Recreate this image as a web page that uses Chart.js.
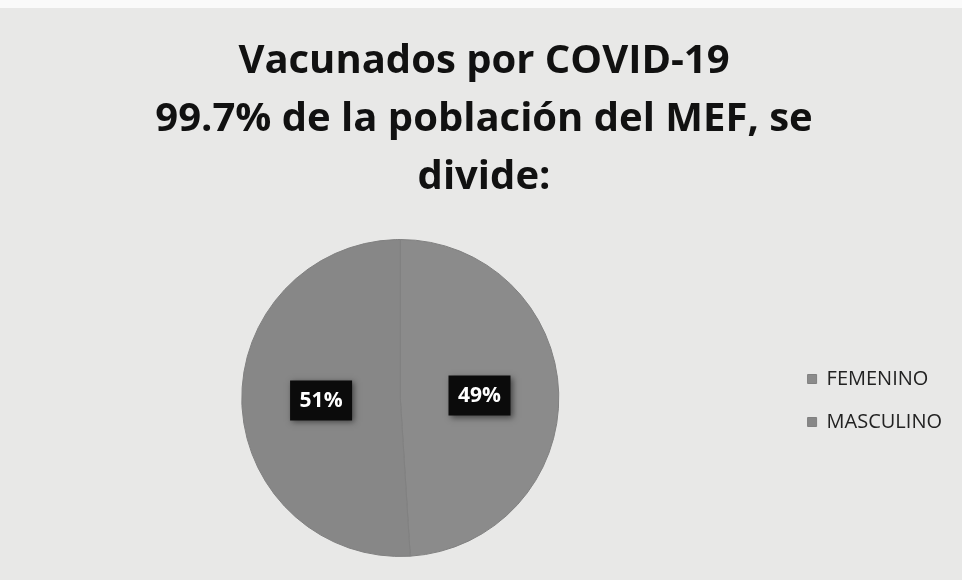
<!DOCTYPE html>
<html>
<head>
<meta charset="utf-8">
<script src="https://cdn.jsdelivr.net/npm/chart.js@4"></script>
<style>
  html, body { margin: 0; padding: 0; background: #ffffff; }
  #wrap { width: 962px; height: 580px; position: relative; background: #e8e8e7; box-sizing: border-box; border-top: 8px solid #fafafa; }
</style>
</head>
<body>
<div id="wrap"><canvas id="pieChart"></canvas></div>
<script>
const categories = ["FEMENINO", "MASCULINO"];
const percents = [49, 51];
const titleLines = ["Vacunados por COVID-19", "99.7% de la población del MEF, se", "divide:"];

// black boxes with the percentage, half way out on each slice
const percentBoxes = {
  id: "percentBoxes",
  afterDatasetsDraw(chart) {
    const ctx = chart.ctx;
    chart.getDatasetMeta(0).data.forEach((arc, i) => {
      const mid = (arc.startAngle + arc.endAngle) / 2;
      const r = arc.outerRadius * 0.5;
      const x = arc.x + Math.cos(mid) * r;
      const y = arc.y + Math.sin(mid) * r;
      ctx.save();
      ctx.shadowColor = "rgba(0,0,0,0.5)";
      ctx.shadowBlur = 6;
      ctx.shadowOffsetX = 2;
      ctx.shadowOffsetY = 2;
      ctx.fillStyle = "#0b0b0b";
      ctx.fillRect(x - 31, y - 20, 62, 40);
      ctx.restore();
      ctx.fillStyle = "#ffffff";
      ctx.font = "bold 21px 'Open Sans'";
      ctx.textAlign = "center";
      ctx.textBaseline = "middle";
      ctx.fillText(percents[i] + "%", x, y + 1);
    });
  }
};

document.addEventListener("DOMContentLoaded", () => {
  const ctx = document.getElementById("pieChart").getContext("2d");
  new Chart(ctx, {
    type: "pie",
    data: {
      labels: categories,
      datasets: [
        {
          data: percents,
          backgroundColor: ["#8b8b8b", "#878787"],
          borderColor: "#808080",
          borderWidth: 1,
        },
      ],
    },
    options: {
      responsive: true,
      maintainAspectRatio: false,
      animation: false,
      layout: { padding: { top: 14, bottom: 23, left: 16, right: 10 } },
      plugins: {
        title: {
          display: true,
          text: titleLines,
          color: "#111111",
          font: { family: "'Open Sans'", size: 40, weight: "bold", lineHeight: 1.45 },
          padding: { top: 11, bottom: 32 },
        },
        legend: {
          position: "right",
          title: { display: true, text: "", font: { size: 10 }, padding: { top: 210, bottom: 0 } },
          labels: {
            boxWidth: 9,
            boxHeight: 9,
            padding: 23,
            color: "#222222",
            font: { family: "'Open Sans'", size: 20 },
          },
        },
        tooltip: { enabled: false },
      },
    },
    plugins: [percentBoxes],
  });
});
</script>
</body>
</html>
